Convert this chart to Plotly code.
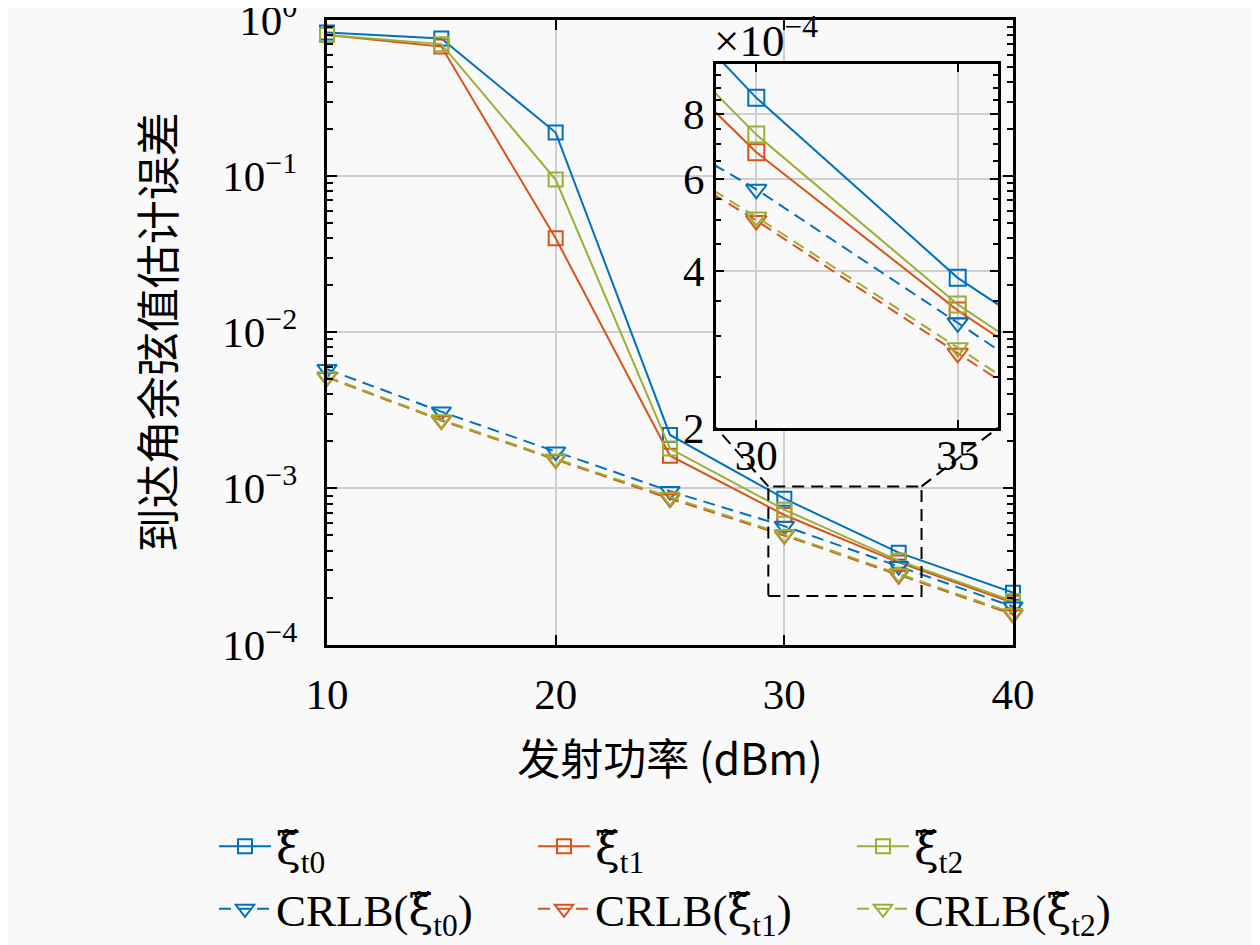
import numpy as np
import plotly.graph_objects as go

# ---------------- data ----------------
x_power = [10, 15, 20, 25, 30, 35, 40]
xi_t0 = [0.83, 0.76, 0.19, 2.2e-3, 8.6e-4, 3.88e-4, 2.15e-4]
xi_t1 = [0.80, 0.675, 0.040, 1.62e-3, 6.76e-4, 3.36e-4, 1.85e-4]
xi_t2 = [0.80, 0.70, 0.095, 1.80e-3, 7.31e-4, 3.45e-4, 1.90e-4]
crlb_t0 = [5.8e-3, 3.1e-3, 1.72e-3, 9.6e-4, 5.74e-4, 3.18e-4, 1.75e-4]
crlb_t1 = [5.15e-3, 2.72e-3, 1.53e-3, 8.6e-4, 5.0e-4, 2.78e-4, 1.56e-4]
crlb_t2 = [5.2e-3, 2.76e-3, 1.55e-3, 8.8e-4, 5.08e-4, 2.85e-4, 1.59e-4]

XI = "<span style='font-family:DejaVu Serif'>ξ̃</span>"
names_est = [XI + "<sub>t0</sub>", XI + "<sub>t1</sub>", XI + "<sub>t2</sub>"]
names_crlb = ["CRLB(" + XI + "<sub>t0</sub>)", "CRLB(" + XI + "<sub>t1</sub>)", "CRLB(" + XI + "<sub>t2</sub>)"]
colors = ["#0072BD", "#D95319", "#9DAE34"]

x_ticks = [10, 20, 30, 40]
y_ticks = [1e-4, 1e-3, 1e-2, 1e-1, 1]
y_ticktext = ["10<sup>−4</sup>", "10<sup>−3</sup>", "10<sup>−2</sup>", "10<sup>−1</sup>", "10<sup>0</sup>"]

inset_x_ticks = [30, 35]
inset_y_ticks = [2e-4, 4e-4, 6e-4, 8e-4]
inset_y_ticktext = ["2", "4", "6", "8"]
inset_xrange = [29, 36]
inset_yrange = [2e-4, 1.0e-3]
zoom_box_x = [29.3, 36]
zoom_box_y = [2.05e-4, 1.03e-3]

x_title = "发射功率 (dBm)"
y_title = "到达角余弦值估计误差"
exp_label = "×10<sup>−4</sup>"

# ---------------- layout geometry ----------------
OFF = 8  # page body margin
W, H = 1260 - OFF, 945 - OFF


def px_x(p):
    return (p - OFF) / W


def px_y(p):
    return 1 - (p - OFF) / H


main_xd = [px_x(327), px_x(1013)]
main_yd = [px_y(648), px_y(20)]
ins_xd = [px_x(716), px_x(998)]
ins_yd = [px_y(430), px_y(64)]

FONT = "Liberation Serif, Noto Sans CJK SC"
CJK = "Noto Sans CJK SC, Liberation Serif"
GRID = "#cfcfcf"
BG = "#f9f9f9"
DASH = "12px,7px"
FS = 43
LFS = 45

fig = go.Figure()

est = [xi_t0, xi_t1, xi_t2]
crl = [crlb_t0, crlb_t1, crlb_t2]

for i in range(3):
    fig.add_trace(go.Scatter(
        x=x_power, y=est[i], name=names_est[i], mode="lines+markers",
        line=dict(color=colors[i], width=2),
        marker=dict(symbol="square-open", size=14, color=colors[i], line=dict(width=2, color=colors[i])),
        xaxis="x", yaxis="y", legend="legend", cliponaxis=False))
for i in range(3):
    fig.add_trace(go.Scatter(
        x=x_power, y=crl[i], name=names_crlb[i], mode="lines+markers",
        line=dict(color=colors[i], width=2, dash=DASH),
        marker=dict(symbol="triangle-down-open", size=17, color=colors[i], line=dict(width=2, color=colors[i])),
        xaxis="x", yaxis="y", legend="legend2", cliponaxis=False))

# inset traces
for i in range(3):
    fig.add_trace(go.Scatter(
        x=x_power, y=est[i], mode="lines+markers", showlegend=False,
        line=dict(color=colors[i], width=2),
        marker=dict(symbol="square-open", size=16, color=colors[i], line=dict(width=2, color=colors[i])),
        xaxis="x2", yaxis="y2"))
for i in range(3):
    fig.add_trace(go.Scatter(
        x=x_power, y=crl[i], mode="lines+markers", showlegend=False,
        line=dict(color=colors[i], width=2, dash=DASH),
        marker=dict(symbol="triangle-down-open", size=18, color=colors[i], line=dict(width=2, color=colors[i])),
        xaxis="x2", yaxis="y2"))

axis_common = dict(showline=True, linewidth=3, linecolor="black", mirror="ticks",
                   ticks="inside", tickcolor="black", tickwidth=2,
                   showgrid=True, gridcolor=GRID, gridwidth=1.5, zeroline=False,
                   automargin=False, ticklabeloverflow="allow")

main_minor = [m * 10.0 ** e for e in range(-4, 0) for m in range(2, 10)]
ins_minor = [v * 1e-4 for v in np.arange(2.5, 10.01, 0.5) if abs(v % 2) > 1e-9]

legend_common = dict(orientation="h", xanchor="left", yanchor="middle",
                     entrywidth=252, entrywidthmode="pixels", itemwidth=52,
                     bgcolor="rgba(0,0,0,0)", font=dict(size=LFS, family=FONT), tracegroupgap=0)

fig.update_layout(
    width=W, height=H,
    margin=dict(l=0, r=0, t=0, b=0),
    paper_bgcolor=BG, plot_bgcolor=BG,
    font=dict(family=FONT, size=FS, color="black"),
    showlegend=True,
    xaxis=dict(domain=main_xd, anchor="y", range=[10, 40], tickvals=x_ticks, ticklen=10,
               tickfont=dict(size=FS, family=FONT), ticklabelstandoff=10,
               title=dict(text=x_title, font=dict(family=CJK, size=43), standoff=28),
               **axis_common),
    yaxis=dict(domain=main_yd, anchor="x", type="log", range=[-4, 0], tickvals=y_ticks,
               ticktext=y_ticktext, ticklen=10, tickfont=dict(size=FS, family=FONT),
               ticklabelstandoff=18,
               minor=dict(tickvals=main_minor, ticks="inside", ticklen=6, tickwidth=1.5,
                          tickcolor="black", showgrid=False),
               title=dict(text=y_title, font=dict(family=CJK, size=44), standoff=33),
               **axis_common),
    xaxis2=dict(domain=ins_xd, anchor="y2", range=inset_xrange, tickvals=inset_x_ticks, ticklen=8,
                tickfont=dict(size=FS, family=FONT), ticklabelstandoff=-12, **axis_common),
    yaxis2=dict(domain=ins_yd, anchor="x2", type="log",
                range=[np.log10(inset_yrange[0]), np.log10(inset_yrange[1])],
                tickvals=inset_y_ticks, ticktext=inset_y_ticktext, ticklen=8,
                tickfont=dict(size=FS, family=FONT), ticklabelstandoff=0,
                minor=dict(tickvals=ins_minor, ticks="inside", ticklen=5, tickwidth=1.5,
                           tickcolor="black", showgrid=False),
                **axis_common),
    legend=dict(x=px_x(214), y=px_y(851), **legend_common),
    legend2=dict(x=px_x(214), y=px_y(914), **legend_common),
)


def main_paper(xv, yv):
    px = main_xd[0] + (xv - 10) / 30 * (main_xd[1] - main_xd[0])
    py = main_yd[0] + (np.log10(yv) + 4) / 4 * (main_yd[1] - main_yd[0])
    return px, py


def paper_to_main(px, py):
    xv = 10 + (px - main_xd[0]) / (main_xd[1] - main_xd[0]) * 30
    yv = 10 ** (-4 + (py - main_yd[0]) / (main_yd[1] - main_yd[0]) * 4)
    return xv, yv


# hide main gridlines beneath the inset
c0 = paper_to_main(ins_xd[0], ins_yd[0])
c1 = paper_to_main(ins_xd[1], ins_yd[1])
fig.add_shape(type="rect", xref="x", yref="y", layer="between",
              x0=c0[0], x1=c1[0], y0=c0[1], y1=c1[1],
              fillcolor=BG, line=dict(width=0))

# zoom rectangle
fig.add_shape(type="rect", xref="x", yref="y", x0=zoom_box_x[0], x1=zoom_box_x[1],
              y0=zoom_box_y[0], y1=zoom_box_y[1], layer="above",
              line=dict(color="black", width=2, dash=DASH))

# connectors
p1 = main_paper(zoom_box_x[0], zoom_box_y[1])
p2 = main_paper(zoom_box_x[1], zoom_box_y[1])
fig.add_shape(type="line", xref="paper", yref="paper", x0=p1[0], y0=p1[1], x1=ins_xd[0], y1=ins_yd[0],
              line=dict(color="black", width=2, dash=DASH), layer="above")
fig.add_shape(type="line", xref="paper", yref="paper", x0=p2[0], y0=p2[1], x1=ins_xd[1], y1=ins_yd[0],
              line=dict(color="black", width=2, dash=DASH), layer="above")

fig.add_annotation(text=exp_label, xref="paper", yref="paper", x=ins_xd[0], y=ins_yd[1],
                   xanchor="left", yanchor="bottom", showarrow=False,
                   font=dict(size=FS + 2, family=FONT), xshift=-4, yshift=-4)

fig.write_html("out.html")
